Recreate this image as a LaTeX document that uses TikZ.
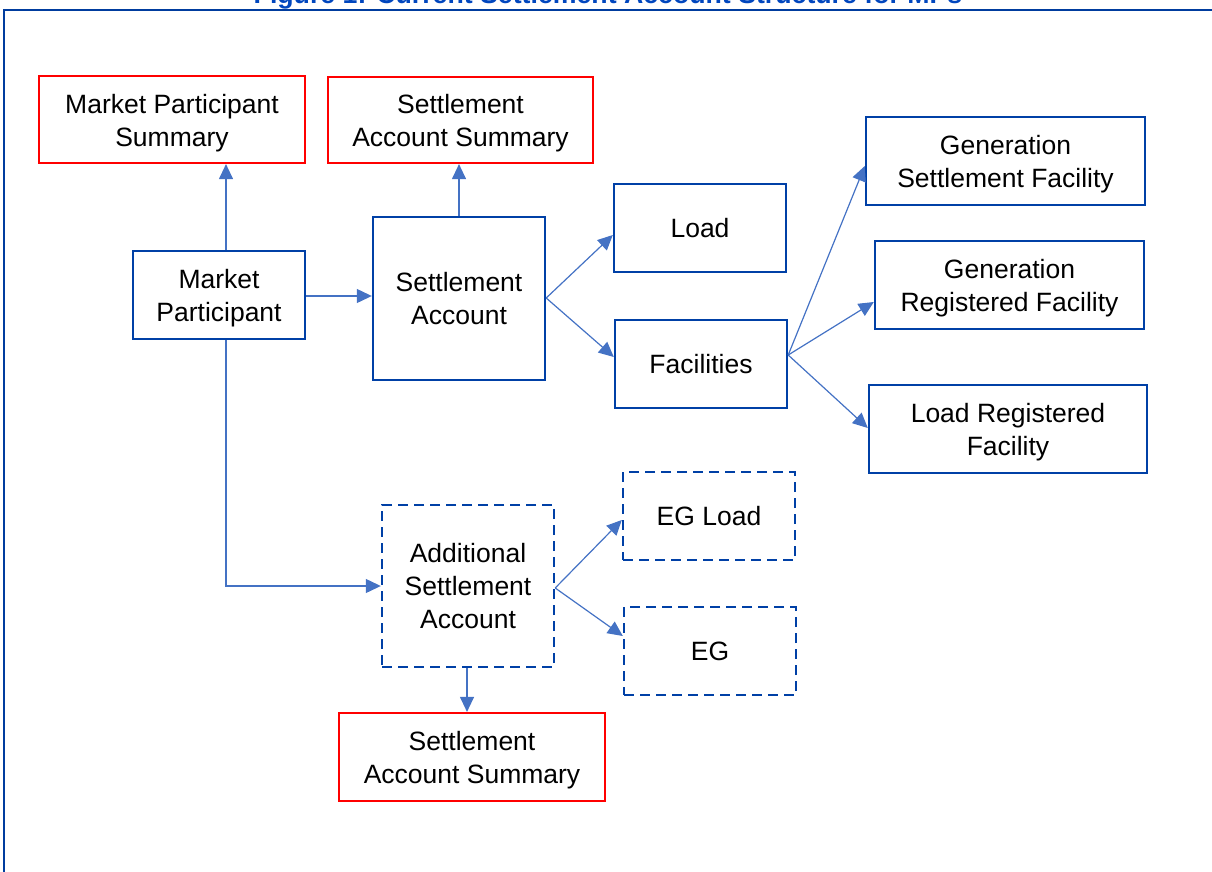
\documentclass[tikz,border=0pt]{standalone}
\usepackage{fontspec}
\setmainfont{Liberation Sans}
\usetikzlibrary{arrows.meta}
\definecolor{boxblue}{RGB}{0,64,166}
\definecolor{arrblue}{RGB}{68,114,196}
\definecolor{framblue}{RGB}{0,60,158}
\definecolor{titblue}{RGB}{0,70,190}
\newcommand{\ftop}{\rule{0pt}{25.5pt}}
\begin{document}
\begin{tikzpicture}[x=1pt,y=-1pt,
  box/.style={draw=boxblue,line width=2.4pt,inner sep=0pt,align=center,
    font=\fontsize{26.5}{33}\selectfont},
  redbox/.style={draw=red,line width=2.2pt,inner sep=0pt,align=center,
    font=\fontsize{26.5}{33}\selectfont},
  dbox/.style={box,dash pattern=on 10pt off 6pt},
  arr/.style={draw=arrblue,line width=1.2pt,-{Triangle[length=15pt,width=14pt]}},
  ln/.style={draw=arrblue,line width=1.2pt}]
\useasboundingbox (0,0) rectangle (1212,872);
\clip (0,0) rectangle (1212,872);
% frame and title
\draw[framblue,line width=2.5pt] (4,880) -- (4,10) -- (1225,10);
\node[anchor=base,text=titblue,font=\bfseries\fontsize{26.7}{30}\selectfont,inner sep=0pt] (title) at (608,4) {Figure 1: Current Settlement Account Structure for MPs};
% boxes
\node[redbox,minimum width=266pt,minimum height=87pt] (mps) at (172,119.5) {\ftop Market Participant\\Summary};
\node[redbox,minimum width=265pt,minimum height=86pt] (sas) at (460.5,120) {\ftop Settlement\\Account Summary};
\node[box,minimum width=172pt,minimum height=88pt] (mp) at (219,295) {\ftop Market\\Participant};
\node[box,minimum width=172pt,minimum height=163pt] (sa) at (459,298.5) {Settlement\\Account};
\node[box,minimum width=172pt,minimum height=88pt] (load) at (700,228) {Load};
\node[box,minimum width=172pt,minimum height=88pt] (fac) at (701,364) {Facilities};
\node[box,minimum width=279pt,minimum height=88pt] (gsf) at (1005.5,161) {\ftop Generation\\Settlement Facility};
\node[box,minimum width=269pt,minimum height=88pt] (grf) at (1009.5,285) {\ftop Generation\\Registered Facility};
\node[box,minimum width=278pt,minimum height=88pt] (lrf) at (1008,429) {\ftop Load Registered\\Facility};
\node[dbox,minimum width=172pt,minimum height=162pt] (asa) at (468,586) {Additional\\Settlement\\Account};
\node[dbox,minimum width=172pt,minimum height=88pt] (egl) at (709,516) {EG Load};
\node[dbox,minimum width=172pt,minimum height=88pt] (eg) at (710,651) {EG};
\node[redbox,minimum width=266pt,minimum height=88pt] (sas2) at (472,757) {\ftop Settlement\\Account Summary};
% connectors
\draw[arr] (mp.north -| 226,0) -- (mps.south -| 226,0);
\draw[arr] (mp.east |- 0,296) -- (sa.west |- 0,296);
\draw[arr] (sa.north) -- (sas.south -| sa.north);
\coordinate (saout) at (sa.east |- 0,298);
\draw[arr] (saout) -- (load.west |- 0,235);
\draw[arr] (saout) -- (fac.west |- 0,357);
\coordinate (facout) at (fac.east |- 0,355);
\draw[arr] (facout) -- (gsf.west |- 0,166);
\draw[arr] (facout) -- (grf.west |- 0,302);
\draw[arr] (facout) -- (lrf.west |- 0,428);
\draw[arr] (mp.south -| 226,0) -- (226,586) -- (asa.west |- 0,586);
\coordinate (asaout) at (asa.east |- 0,588);
\draw[arr] (asaout) -- (egl.west |- 0,520);
\draw[arr] (asaout) -- (eg.west |- 0,636);
\draw[arr] (asa.south -| 467,0) -- (sas2.north -| 467,0);
\end{tikzpicture}
\end{document}
